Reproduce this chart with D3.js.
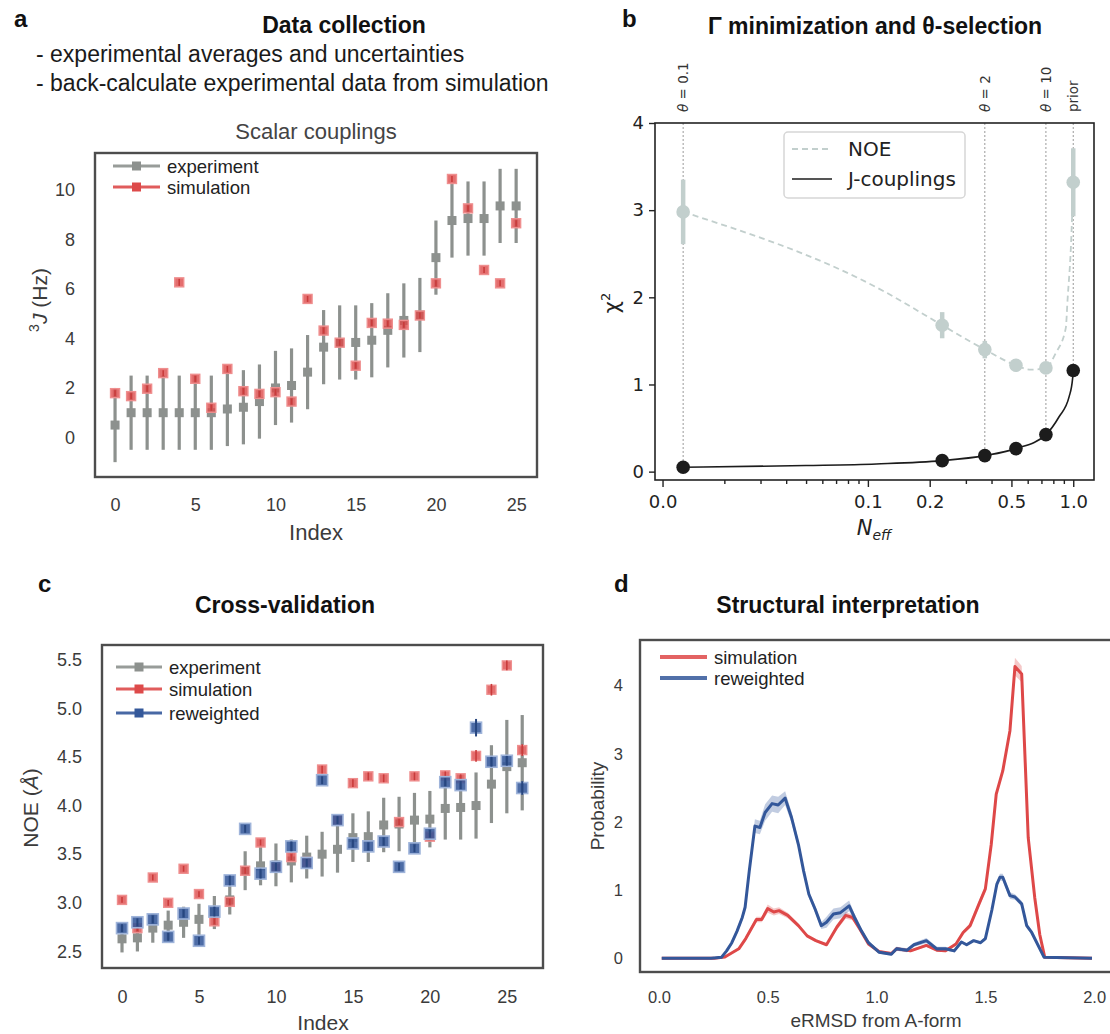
<!DOCTYPE html>
<html>
<head>
<meta charset="utf-8">
<script src="https://cdn.jsdelivr.net/npm/d3@7"></script>
<style>
body { margin: 0; background: #fff; }
</style>
</head>
<body>
<svg id="fig" width="1110" height="1034"></svg>
<script>
// ---------- data: panel a (scalar couplings) ----------
const jExp    = [0.5, 1.0, 1.0, 1.0, 1.0, 1.0, 1.0, 1.15, 1.22, 1.45, 2.0, 2.1, 2.64, 3.65, 3.84, 3.84, 3.93, 4.33, 4.73, 4.95, 7.27, 8.77, 8.85, 8.85, 9.36, 9.36];
const jExpErr = [1.5, 1.5, 1.5, 1.5, 1.5, 1.5, 1.5, 1.5, 1.5, 1.5, 1.5, 1.5, 1.5, 1.5, 1.5, 1.5, 1.5, 1.5, 1.5, 1.5, 1.5, 1.5, 1.5, 1.5, 1.5, 1.5];
const jSim    = [1.79, 1.67, 1.97, 2.6, 6.27, 2.37, 1.2, 2.77, 1.87, 1.76, 1.83, 1.45, 5.6, 4.32, 3.83, 2.9, 4.63, 4.6, 4.55, 4.93, 6.23, 10.45, 9.26, 6.77, 6.23, 8.66];
const jSimErr = [0.12, 0.12, 0.12, 0.12, 0.14, 0.12, 0.12, 0.12, 0.12, 0.12, 0.12, 0.12, 0.12, 0.12, 0.12, 0.12, 0.12, 0.12, 0.12, 0.12, 0.12, 0.12, 0.12, 0.12, 0.12, 0.12];
const aTicksX = [0, 5, 10, 15, 20, 25];
const aTicksY = [0, 2, 4, 6, 8, 10];

// ---------- data: panel b (chi2 vs Neff) ----------
const thetaNames = ["0.1", "2", "10", "prior"];
const thetaNeff  = [0.0126, 0.371, 0.736, 1.0];
const thetaChiJ  = [0.05, 0.184, 0.425, 1.16];
const markNeff   = [0.0126, 0.23, 0.371, 0.526, 0.736, 1.0];
const markChiJ   = [0.05, 0.126, 0.184, 0.264, 0.425, 1.16];
const markChiNoe = [2.98, 1.68, 1.4, 1.22, 1.19, 3.32];
const markNoeErr = [0.37, 0.15, 0.1, 0.07, 0.05, 0.39];
const lineNeffJ  = [0.0126, 0.05, 0.11, 0.23, 0.371, 0.526, 0.736, 0.853, 0.955, 0.993, 1.0];
const lineChiJ   = [0.05, 0.07, 0.088, 0.126, 0.184, 0.264, 0.425, 0.63, 0.86, 1.07, 1.16];
const lineNeffN  = [0.0126, 0.1195, 0.23, 0.371, 0.526, 0.62, 0.736, 0.822, 0.92, 0.938, 0.975, 1.0];
const lineChiN   = [2.98, 2.07, 1.68, 1.4, 1.22, 1.17, 1.19, 1.36, 1.65, 1.97, 2.6, 3.32];
const bTicksY    = [0, 1, 2, 3, 4];
const bTicksX    = [0.01, 0.1, 0.2, 0.5, 1.0];
const bMinorX    = [0.02, 0.03, 0.04, 0.05, 0.06, 0.07, 0.08, 0.09, 0.3, 0.4, 0.6, 0.7, 0.8, 0.9];

// ---------- data: panel c (cross-validation, NOE) ----------
const noeExp    = [2.63, 2.64, 2.74, 2.77, 2.8, 2.83, 2.9, 3.03, 3.33, 3.38, 3.39, 3.43, 3.47, 3.5, 3.55, 3.67, 3.68, 3.8, 3.81, 3.85, 3.86, 3.97, 3.98, 4.0, 4.22, 4.4, 4.44];
const noeExpErr = [0.14, 0.14, 0.15, 0.15, 0.16, 0.16, 0.17, 0.15, 0.2, 0.2, 0.22, 0.22, 0.22, 0.23, 0.24, 0.25, 0.26, 0.28, 0.28, 0.28, 0.29, 0.32, 0.33, 0.34, 0.4, 0.48, 0.49];
const noeSim    = [3.03, 2.74, 3.26, 3.0, 3.35, 3.09, 2.81, 3.01, 3.33, 3.62, 3.36, 3.47, 3.42, 4.37, 3.85, 4.23, 4.3, 4.28, 3.83, 4.3, 3.68, 4.31, 4.28, 4.51, 5.19, 5.44, 4.57];
const noeSimErr = [0.03, 0.03, 0.03, 0.03, 0.03, 0.03, 0.03, 0.03, 0.03, 0.03, 0.03, 0.03, 0.03, 0.04, 0.03, 0.04, 0.04, 0.04, 0.03, 0.04, 0.03, 0.04, 0.04, 0.06, 0.06, 0.05, 0.06];
const noeRew    = [2.74, 2.8, 2.83, 2.65, 2.89, 2.61, 2.91, 3.23, 3.76, 3.3, 3.37, 3.58, 3.41, 4.26, 3.85, 3.61, 3.58, 3.63, 3.37, 3.56, 3.71, 4.24, 4.21, 4.8, 4.45, 4.46, 4.18];
const noeRewErr = [0.04, 0.04, 0.04, 0.04, 0.04, 0.04, 0.05, 0.05, 0.04, 0.05, 0.04, 0.05, 0.04, 0.04, 0.04, 0.04, 0.04, 0.04, 0.04, 0.04, 0.04, 0.04, 0.04, 0.09, 0.05, 0.05, 0.07];
const cTicksX = [0, 5, 10, 15, 20, 25];
const cTicksY = [2.5, 3.0, 3.5, 4.0, 4.5, 5.0, 5.5];

// ---------- data: panel d (eRMSD distributions) ----------
const ermsdSim = [0.013, 0.254, 0.303, 0.367, 0.399, 0.448, 0.472, 0.5, 0.528, 0.552, 0.592, 0.641, 0.681, 0.721, 0.77, 0.818, 0.858, 0.89, 0.923, 0.963, 1.011, 1.068, 1.092, 1.156, 1.229, 1.277, 1.317, 1.365, 1.398, 1.43, 1.471, 1.5, 1.527, 1.55, 1.58, 1.613, 1.636, 1.667, 1.697, 1.727, 1.75, 1.773, 1.99];
const probSim  = [0, 0, 0.02, 0.14, 0.29, 0.57, 0.57, 0.73, 0.68, 0.7, 0.63, 0.48, 0.33, 0.26, 0.2, 0.46, 0.63, 0.6, 0.43, 0.21, 0.1, 0.07, 0.14, 0.11, 0.19, 0.12, 0.11, 0.21, 0.38, 0.48, 0.8, 1.02, 1.67, 2.41, 2.75, 3.34, 4.28, 4.17, 1.77, 0.89, 0.35, 0.015, 0];
const bandSim  = [0, 0, 0.005, 0.02, 0.03, 0.04, 0.04, 0.06, 0.05, 0.05, 0.04, 0.03, 0.02, 0.02, 0.02, 0.04, 0.05, 0.04, 0.03, 0.02, 0.02, 0.02, 0.03, 0.02, 0.02, 0.02, 0.02, 0.02, 0.03, 0.04, 0.05, 0.05, 0.04, 0.04, 0.04, 0.05, 0.13, 0.12, 0.08, 0.03, 0.02, 0.005, 0];
const ermsdRew = [0.013, 0.24, 0.287, 0.311, 0.335, 0.359, 0.383, 0.396, 0.415, 0.441, 0.464, 0.488, 0.52, 0.548, 0.58, 0.609, 0.641, 0.665, 0.689, 0.718, 0.746, 0.77, 0.802, 0.834, 0.874, 0.899, 0.931, 0.963, 1.011, 1.068, 1.092, 1.14, 1.172, 1.229, 1.277, 1.317, 1.357, 1.39, 1.414, 1.446, 1.478, 1.5, 1.53, 1.553, 1.567, 1.58, 1.613, 1.636, 1.667, 1.69, 1.713, 1.77, 1.99];
const probRew  = [0, 0, 0.015, 0.11, 0.23, 0.4, 0.6, 0.75, 1.28, 1.94, 1.92, 2.14, 2.27, 2.25, 2.35, 2.07, 1.67, 1.28, 0.94, 0.72, 0.48, 0.53, 0.65, 0.67, 0.77, 0.6, 0.4, 0.23, 0.09, 0.06, 0.14, 0.12, 0.2, 0.26, 0.14, 0.14, 0.11, 0.24, 0.2, 0.26, 0.23, 0.29, 0.71, 1.09, 1.19, 1.19, 0.92, 0.9, 0.8, 0.48, 0.38, 0.015, 0];
const bandRew  = [0, 0, 0.005, 0.02, 0.03, 0.04, 0.05, 0.06, 0.08, 0.1, 0.1, 0.12, 0.12, 0.12, 0.1, 0.08, 0.06, 0.05, 0.05, 0.05, 0.05, 0.08, 0.08, 0.08, 0.08, 0.05, 0.04, 0.03, 0.02, 0.02, 0.03, 0.03, 0.03, 0.04, 0.03, 0.03, 0.02, 0.02, 0.02, 0.02, 0.02, 0.03, 0.04, 0.05, 0.05, 0.05, 0.05, 0.04, 0.04, 0.04, 0.03, 0.005, 0];
const dTicksX = [0.0, 0.5, 1.0, 1.5, 2.0];
const dTicksY = [0, 1, 2, 3, 4];

// ---------- style ----------
const SANS = '"Liberation Sans", Arial, sans-serif';
const DJV = '"DejaVu Sans", sans-serif';
const TXT = "#3b3b3b";
const SPINE = "#4d4d4d";
const C_EXP = "#8d918e";
const C_SIM = "#dd4a4a";
const C_REW = "#34589a";
const C_NOE = "#c2cfcd";
const C_J = "#1c1c1c";

const svg = d3.select("#fig");

function frame(b) {
  svg.append("rect")
     .attr("x", b.left).attr("y", b.top)
     .attr("width", b.right - b.left).attr("height", b.bottom - b.top)
     .attr("fill", "none").attr("stroke", SPINE).attr("stroke-width", 2.4);
}

function sbAxes(b, x, y, xt, yt, xfmt, yfmt, padX, padY, size) {
  const gx = svg.append("g").attr("transform", `translate(0,${b.bottom})`)
     .call(d3.axisBottom(x).tickValues(xt).tickSize(0).tickPadding(padX).tickFormat(xfmt));
  const gy = svg.append("g").attr("transform", `translate(${b.left},0)`)
     .call(d3.axisLeft(y).tickValues(yt).tickSize(0).tickPadding(padY).tickFormat(yfmt));
  [gx, gy].forEach(g => {
    g.select(".domain").remove();
    g.selectAll("text").attr("font-family", SANS).attr("font-size", size).attr("fill", TXT);
  });
}

function text(x, y, s, opt) {
  const t = svg.append("text").attr("x", x).attr("y", y)
     .attr("font-family", opt.font || SANS)
     .attr("font-size", opt.size)
     .attr("font-weight", opt.bold ? "bold" : "normal")
     .attr("fill", opt.fill || "#111")
     .attr("text-anchor", opt.anchor || "start");
  if (opt.rotate) t.attr("transform", `rotate(-90,${x},${y})`);
  if (s !== null) t.text(s);
  return t;
}

// error bars + square markers
function errSquares(x, y, vals, errs, o) {
  const g = svg.append("g");
  const bars = () => g.append("g").selectAll("line").data(vals).join("line")
     .attr("x1", (d, i) => x(i)).attr("x2", (d, i) => x(i))
     .attr("y1", (d, i) => y(d - errs[i])).attr("y2", (d, i) => y(d + errs[i]))
     .attr("stroke", o.barColor).attr("stroke-width", o.barWidth);
  if (!o.barOnTop) bars();
  g.append("g").selectAll("rect").data(vals).join("rect")
     .attr("x", (d, i) => x(i) - o.size / 2).attr("y", d => y(d) - o.size / 2)
     .attr("width", o.size).attr("height", o.size)
     .attr("fill", o.fill).attr("fill-opacity", o.opacity)
     .attr("stroke", o.edge || "none").attr("stroke-width", o.edgeWidth || 0);
  if (o.barOnTop) bars();
}

function legendRow(x0, x1, y, color, label, marker, size) {
  svg.append("line").attr("x1", x0).attr("x2", x1).attr("y1", y).attr("y2", y)
     .attr("stroke", color).attr("stroke-width", 3.2).attr("stroke-opacity", 0.9);
  if (marker) {
    svg.append("rect").attr("x", (x0 + x1) / 2 - 4.5).attr("y", y - 4.5)
       .attr("width", 9).attr("height", 9).attr("fill", color);
  }
  text(x1 + 7, y + 6.5, label, {size: size, fill: "#222"});
}

// ================= panel a =================
const bA = {left: 95, top: 153, right: 537, bottom: 477};
const xA = d3.scaleLinear().domain([-1.25, 26.3]).range([bA.left, bA.right]);
const yA = d3.scaleLinear().domain([-1.6, 11.5]).range([bA.bottom, bA.top]);
const idxA = i => xA(i);

errSquares(idxA, yA, jExp, jExpErr, {size: 9, fill: C_EXP, opacity: 1, barColor: C_EXP, barWidth: 3.2});
errSquares(idxA, yA, jSim, jSimErr, {size: 9, fill: C_SIM, opacity: 0.8, edge: "#ef8f8f", edgeWidth: 1.4,
                                    barColor: "#c93b3b", barWidth: 1.6, barOnTop: true});
frame(bA);
sbAxes(bA, xA, yA, aTicksX, aTicksY, d3.format("d"), d3.format("d"), 21, 20, 18);

legendRow(113, 160, 166, C_EXP, "experiment", true, 18.5);
legendRow(113, 160, 187, C_SIM, "simulation", true, 18.5);

text(316, 139, "Scalar couplings", {size: 22, fill: "#444", anchor: "middle"});
text(316, 540, "Index", {size: 22, fill: TXT, anchor: "middle"});
const ylA = text(47, 300, null, {size: 21, fill: TXT, anchor: "middle", rotate: true});
ylA.append("tspan").attr("font-size", 14).attr("dy", -8).text("3");
ylA.append("tspan").attr("font-style", "italic").attr("dy", 8).text("J");
ylA.append("tspan").text(" (Hz)");

text(14, 27, "a", {size: 24, bold: true});
text(344, 33, "Data collection", {size: 23, bold: true, anchor: "middle"});
text(36, 62, "- experimental averages and uncertainties", {size: 23, fill: "#1a1a1a"});
text(36, 91, "- back-calculate experimental data from simulation", {size: 23, fill: "#1a1a1a"});

// ================= panel b =================
const bB = {left: 655, top: 123, right: 1094, bottom: 480};
const xB = d3.scaleLog().domain([0.00919, 1.262]).range([bB.left, bB.right]);
const yB = d3.scaleLinear().domain([-0.096, 4.0]).range([bB.bottom, bB.top]);

// dotted guides for selected theta
svg.append("g").selectAll("line").data(thetaNeff).join("line")
   .attr("x1", d => xB(d)).attr("x2", d => xB(d))
   .attr("y1", yB(4)).attr("y2", (d, i) => yB(thetaChiJ[i]))
   .attr("stroke", "#9a9a9a").attr("stroke-width", 1).attr("stroke-dasharray", "2,2");

// NOE curve (dashed) + error bars + markers
const lineNoe = d3.line().x((d, i) => xB(lineNeffN[i])).y(d => yB(d)).curve(d3.curveMonotoneX);
svg.append("path").attr("d", lineNoe(lineChiN))
   .attr("fill", "none").attr("stroke", C_NOE).attr("stroke-width", 1.8).attr("stroke-dasharray", "6,4");
svg.append("g").selectAll("line").data(markChiNoe).join("line")
   .attr("x1", (d, i) => xB(markNeff[i])).attr("x2", (d, i) => xB(markNeff[i]))
   .attr("y1", (d, i) => yB(d - markNoeErr[i])).attr("y2", (d, i) => yB(d + markNoeErr[i]))
   .attr("stroke", C_NOE).attr("stroke-width", 4.5);
svg.append("g").selectAll("circle").data(markChiNoe).join("circle")
   .attr("cx", (d, i) => xB(markNeff[i])).attr("cy", d => yB(d)).attr("r", 6.8)
   .attr("fill", C_NOE);

// J-couplings curve + markers
const lineJ = d3.line().x((d, i) => xB(lineNeffJ[i])).y(d => yB(d)).curve(d3.curveMonotoneX);
svg.append("path").attr("d", lineJ(lineChiJ))
   .attr("fill", "none").attr("stroke", C_J).attr("stroke-width", 1.6);
svg.append("g").selectAll("circle").data(markChiJ).join("circle")
   .attr("cx", (d, i) => xB(markNeff[i])).attr("cy", d => yB(d)).attr("r", 6.8)
   .attr("fill", C_J);

// spines + ticks
svg.append("rect").attr("x", bB.left).attr("y", bB.top)
   .attr("width", bB.right - bB.left).attr("height", bB.bottom - bB.top)
   .attr("fill", "none").attr("stroke", "#222").attr("stroke-width", 1.6);
const gbMinor = svg.append("g").attr("transform", `translate(0,${bB.bottom})`)
   .call(d3.axisBottom(xB).tickValues(bMinorX).tickSize(4).tickFormat(""));
const gbx = svg.append("g").attr("transform", `translate(0,${bB.bottom})`)
   .call(d3.axisBottom(xB).tickValues(bTicksX).tickSize(7).tickPadding(8).tickFormat(d3.format(".1f")));
const gby = svg.append("g").attr("transform", `translate(${bB.left},0)`)
   .call(d3.axisLeft(yB).tickValues(bTicksY).tickSize(6).tickPadding(5).tickFormat(d3.format("d")));
[gbMinor, gbx, gby].forEach(g => {
  g.select(".domain").remove();
  g.selectAll("line").attr("stroke", "#222").attr("stroke-width", 1.4);
  g.selectAll("text").attr("font-family", DJV).attr("font-size", 18).attr("fill", "#222");
});

// theta labels above the axes
thetaNames.forEach((n, i) => {
  const t = text(xB(thetaNeff[i]) + 5, 112, null, {font: DJV, size: 13.5, fill: "#333", rotate: true});
  if (n === "prior") { t.text("prior"); }
  else {
    t.append("tspan").attr("font-style", "italic").text("θ");
    t.append("tspan").text(" = " + n);
  }
});

// legend b
svg.append("rect").attr("x", 784).attr("y", 132).attr("width", 181).attr("height", 66)
   .attr("rx", 4).attr("fill", "#fff").attr("fill-opacity", 0.85)
   .attr("stroke", "#d6d6d6").attr("stroke-width", 1.5);
svg.append("line").attr("x1", 792).attr("x2", 832).attr("y1", 149).attr("y2", 149)
   .attr("stroke", C_NOE).attr("stroke-width", 1.8).attr("stroke-dasharray", "6,4");
svg.append("line").attr("x1", 792).attr("x2", 832).attr("y1", 179).attr("y2", 179)
   .attr("stroke", C_J).attr("stroke-width", 1.6);
text(848, 156, "NOE", {font: DJV, size: 20, fill: "#222"});
text(848, 186, "J-couplings", {font: DJV, size: 20, fill: "#222"});

const ylB = text(619, 303, null, {font: DJV, size: 21, fill: "#222", anchor: "middle", rotate: true});
ylB.append("tspan").text("χ");
ylB.append("tspan").attr("font-size", 13).attr("dy", -9).text("2");
const xlB = text(874, 535, null, {font: DJV, size: 21, fill: "#222", anchor: "middle"});
xlB.append("tspan").attr("font-style", "italic").text("N");
xlB.append("tspan").attr("font-style", "italic").attr("font-size", 14).attr("dy", 5).text("eff");

text(622, 27, "b", {size: 24, bold: true});
text(875, 34, "Γ minimization and θ-selection", {size: 23, bold: true, anchor: "middle"});

// ================= panel c =================
const bC = {left: 102, top: 645, right: 543, bottom: 968};
const xC = d3.scaleLinear().domain([-1.3, 27.35]).range([bC.left, bC.right]);
const yC = d3.scaleLinear().domain([2.33, 5.65]).range([bC.bottom, bC.top]);
const idxC = i => xC(i);

errSquares(idxC, yC, noeExp, noeExpErr, {size: 9, fill: C_EXP, opacity: 1, barColor: C_EXP, barWidth: 3.2});
errSquares(idxC, yC, noeSim, noeSimErr, {size: 9, fill: C_SIM, opacity: 0.8, edge: "#ef8f8f", edgeWidth: 1.4,
                                        barColor: "#c93b3b", barWidth: 1.6, barOnTop: true});
errSquares(idxC, yC, noeRew, noeRewErr, {size: 11, fill: C_REW, opacity: 0.88, edge: "#9fb4da", edgeWidth: 1.6,
                                        barColor: "#27467f", barWidth: 2, barOnTop: true});
frame(bC);
sbAxes(bC, xC, yC, cTicksX, cTicksY, d3.format("d"), d3.format(".1f"), 22, 20, 18);

legendRow(116, 162, 667, C_EXP, "experiment", true, 18.5);
legendRow(116, 162, 689, C_SIM, "simulation", true, 18.5);
legendRow(116, 162, 713, C_REW, "reweighted", true, 18.5);

text(323, 1030, "Index", {size: 21, fill: TXT, anchor: "middle"});
const ylC = text(38, 808, null, {size: 21, fill: TXT, anchor: "middle", rotate: true});
ylC.append("tspan").text("NOE (");
ylC.append("tspan").attr("font-style", "italic").text("Å");
ylC.append("tspan").text(")");

text(38, 592, "c", {size: 24, bold: true});
text(285, 613, "Cross-validation", {size: 23, bold: true, anchor: "middle"});

// ================= panel d =================
const bD = {left: 640, top: 640, right: 1112, bottom: 972};
const xD = d3.scaleLinear().domain([-0.087, 2.082]).range([bD.left, bD.right]);
const yD = d3.scaleLinear().domain([-0.2, 4.67]).range([bD.bottom, bD.top]);

function distCurve(xs, ys, band, color) {
  const area = d3.area().x((d, i) => xD(xs[i]))
     .y0((d, i) => yD(d - band[i])).y1((d, i) => yD(d + band[i]));
  svg.append("path").attr("d", area(ys)).attr("fill", color).attr("fill-opacity", 0.3);
  const line = d3.line().x((d, i) => xD(xs[i])).y(d => yD(d));
  svg.append("path").attr("d", line(ys)).attr("fill", "none")
     .attr("stroke", color).attr("stroke-width", 3).attr("stroke-linejoin", "round");
}
distCurve(ermsdSim, probSim, bandSim, "#de4848");
distCurve(ermsdRew, probRew, bandRew, "#33579a");
frame(bD);
sbAxes(bD, xD, yD, dTicksX, dTicksY, d3.format(".1f"), d3.format("d"), 19, 17, 16.5);

svg.append("line").attr("x1", 660).attr("x2", 707).attr("y1", 657).attr("y2", 657)
   .attr("stroke", "#de4848").attr("stroke-width", 4).attr("stroke-opacity", 0.85);
svg.append("line").attr("x1", 660).attr("x2", 707).attr("y1", 678).attr("y2", 678)
   .attr("stroke", "#33579a").attr("stroke-width", 4).attr("stroke-opacity", 0.85);
text(714, 663.5, "simulation", {size: 18.5, fill: "#222"});
text(714, 684.5, "reweighted", {size: 18.5, fill: "#222"});

text(876, 1027, "eRMSD from A-form", {size: 19, fill: TXT, anchor: "middle"});
text(604, 806, "Probability", {size: 19, fill: TXT, anchor: "middle", rotate: true});

text(614, 592, "d", {size: 24, bold: true});
text(848, 613, "Structural interpretation", {size: 23, bold: true, anchor: "middle"});
</script>
</body>
</html>
